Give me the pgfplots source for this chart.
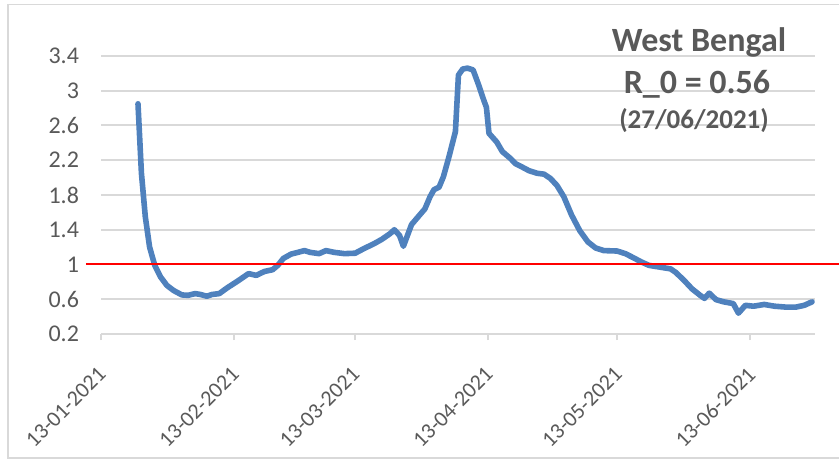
\documentclass[border=0pt]{standalone}
\usepackage{fontspec}
\setmainfont{Carlito}
\usepackage{pgfplots}
\pgfplotsset{compat=1.18}
\definecolor{gridgray}{HTML}{D9D9D9}
\definecolor{labgray}{HTML}{595959}
\definecolor{lineblue}{HTML}{4F81BD}
\begin{document}
\begin{tikzpicture}
\useasboundingbox (0,0) rectangle (419.5pt,230pt);
\draw[gridgray, line width=0.8pt] (425pt,227.75pt) -- (4pt,227.75pt) -- (4pt,1.15pt) -- (425pt,1.15pt);
\begin{axis}[
 at={(50.5pt,63pt)}, anchor=south west,
 scale only axis, width=357pt, height=139pt,
 xmin=0, xmax=166, ymin=0.2, ymax=3.4,
 xtick={0,31,59,90,120,151},
 xticklabels={13-01-2021,13-02-2021,13-03-2021,13-04-2021,13-05-2021,13-06-2021},
 ytick={0.2,0.6,1,1.4,1.8,2.2,2.6,3,3.4},
 yticklabels={0.2,0.6,1,1.4,1.8,2.2,2.6,3,3.4},
 ymajorgrids, grid style={gridgray, line width=1pt},
 axis x line*=bottom, axis y line*=left,
 y axis line style={draw=none},
 x axis line style={gridgray, line width=1pt, -},
 xtick style={gridgray, line width=1pt},
 ytick style={draw=none},
 tick align=outside, major tick length=3pt,
 ticklabel style={font=\fontsize{12}{14}\selectfont, text=labgray},
 yticklabel style={xshift=-4.5pt, anchor=east},
 xticklabel style={font=\fontsize{11}{13}\selectfont, yshift=-13pt, xshift=3pt, rotate=45, anchor=east},
 clip=false,
]
\addplot[lineblue, line width=2.8pt, line join=round, line cap=round] coordinates {
(8.6,2.85) (9.4,2.05) (10.3,1.55) (11.3,1.20) (12.5,0.99) (13.8,0.86) (15.3,0.76) (16.9,0.70) (18.8,0.65) (20.2,0.645) (21.9,0.665) (23.1,0.655) (24.6,0.635) (25.8,0.655) (27.5,0.665) (29.3,0.73) (31.8,0.81) (34.3,0.895) (36.1,0.875) (38,0.92) (39.9,0.94) (41.1,0.99) (42.4,1.07) (44.2,1.12) (45.8,1.14) (47.3,1.16) (48.6,1.14) (50.7,1.125) (52.3,1.16) (54.2,1.14) (56.6,1.125) (59.1,1.13) (61,1.18) (63.5,1.24) (65.3,1.29) (67.2,1.355) (68.2,1.40) (69.4,1.335) (70.3,1.21) (72.2,1.46) (74,1.565) (75.3,1.64) (76.5,1.78) (77.4,1.86) (78.6,1.89) (79.6,2.01) (80.9,2.24) (82.4,2.53) (83.1,3.18) (84.1,3.25) (85.2,3.26) (86.5,3.24) (87.7,3.08) (89,2.89) (89.6,2.81) (90.2,2.51) (92,2.41) (93.3,2.30) (95.2,2.22) (96.4,2.16) (97.6,2.13) (99.5,2.08) (101.4,2.05) (103,2.04) (104.5,1.99) (106,1.91) (107.6,1.78) (109.4,1.57) (111.3,1.39) (113.2,1.26) (115,1.19) (116.9,1.16) (120,1.155) (121.9,1.125) (123.7,1.08) (125.6,1.03) (127.4,0.99) (129.9,0.97) (132.4,0.95) (133.6,0.91) (135.5,0.82) (137.4,0.72) (139.3,0.645) (140.3,0.61) (141.4,0.67) (143,0.595) (144.8,0.57) (147,0.55) (148.2,0.44) (149.8,0.53) (151.7,0.52) (154.2,0.54) (156.6,0.52) (159.1,0.51) (161.6,0.51) (163.5,0.53) (165.3,0.57)
};
\addplot[red, line width=1pt] coordinates {(-3.5,1) (172,1)};
\end{axis}
\node[anchor=base, text=labgray, font=\fontsize{17}{20}\selectfont\bfseries] at (349.5pt,204pt) {West Bengal};
\node[anchor=base, text=labgray, font=\fontsize{17}{20}\selectfont\bfseries] at (348.5pt,183pt) {R\_0 = 0.56};
\node[anchor=base, text=labgray, font=\fontsize{13.5}{16}\selectfont\bfseries] at (347pt,165.8pt) {(27/06/2021)};
\end{tikzpicture}
\end{document}
